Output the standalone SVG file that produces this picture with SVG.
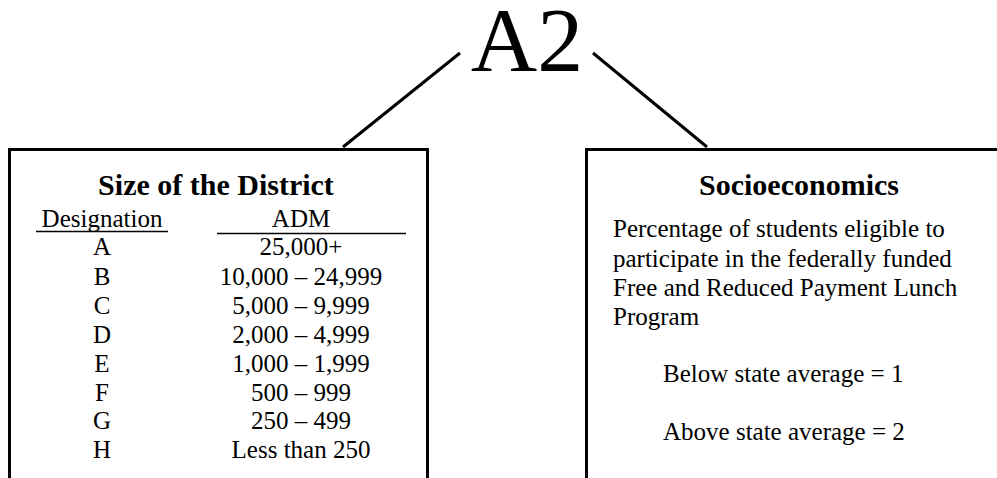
<svg xmlns="http://www.w3.org/2000/svg" width="997" height="478" viewBox="0 0 997 478">
<style>
text{font-family:"Liberation Serif","Times New Roman",serif;fill:#000}
.box{fill:none;stroke:#000;stroke-width:3}
.conn{stroke:#000;stroke-width:3;fill:none}
.ul{stroke:#000;stroke-width:1.5}
.t{font-size:30px;font-weight:bold;text-anchor:middle}
.b{font-size:25px}
.c{font-size:25px;text-anchor:middle}
</style>
<rect width="997" height="478" fill="#fff"/>
<g id="root">
<text x="527" y="71" font-size="92" text-anchor="middle">A2</text>
</g>
<g id="connectors">
<line class="conn" x1="460" y1="53" x2="343" y2="147"/>
<line class="conn" x1="593" y1="53" x2="707" y2="147"/>
</g>
<g id="size">
<path class="box" d="M9.5,480 V149.5 H427.5 V480"/>
<text class="t" x="216" y="195">Size of the District</text>
<text class="c" x="102" y="227">Designation</text>
<line class="ul" x1="36" y1="231.5" x2="168" y2="231.5"/>
<text class="c" x="301" y="227">ADM</text>
<line class="ul" x1="217" y1="233.5" x2="406" y2="233.5"/>
<text class="c" x="102" y="255">A</text><text class="c" x="301" y="255">25,000+</text>
<text class="c" x="102" y="285">B</text><text class="c" x="301" y="285">10,000 – 24,999</text>
<text class="c" x="102" y="314">C</text><text class="c" x="301" y="314">5,000 – 9,999</text>
<text class="c" x="102" y="343">D</text><text class="c" x="301" y="343">2,000 – 4,999</text>
<text class="c" x="102" y="372">E</text><text class="c" x="301" y="372">1,000 – 1,999</text>
<text class="c" x="102" y="401">F</text><text class="c" x="301" y="401">500 – 999</text>
<text class="c" x="102" y="429">G</text><text class="c" x="301" y="429">250 – 499</text>
<text class="c" x="102" y="458">H</text><text class="c" x="301" y="458">Less than 250</text>
</g>
<g id="socio">
<path class="box" d="M586.5,480 V149.5 H1000"/>
<text class="t" x="799" y="195">Socioeconomics</text>
<text class="b" x="613" y="237">Percentage of students eligible to</text>
<text class="b" x="613" y="267">participate in the federally funded</text>
<text class="b" x="613" y="296">Free and Reduced Payment Lunch</text>
<text class="b" x="613" y="325">Program</text>
<text class="b" x="663" y="382">Below state average = 1</text>
<text class="b" x="663" y="440">Above state average = 2</text>
</g>
</svg>
